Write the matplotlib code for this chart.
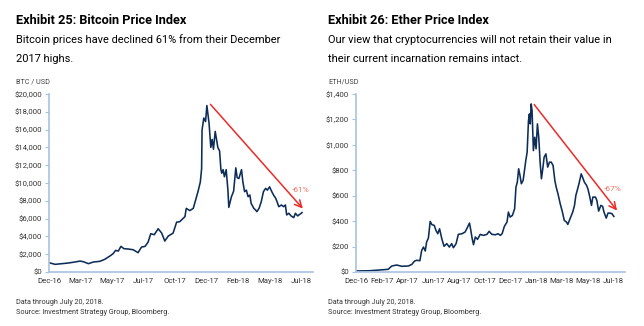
import matplotlib
matplotlib.use('Agg')
import matplotlib.pyplot as plt
import numpy as np
import pandas as pd

plt.rcParams['font.family'] = ['Roboto', 'DejaVu Sans']

start = pd.Timestamp('2016-12-20')

btc_day = [0, 14, 29, 44, 59, 71, 78, 90, 101, 116, 127, 139, 146, 152, 158, 164, 171, 181,
           192, 203, 211, 219, 226, 232, 240, 249, 257, 264, 272, 283, 291, 298, 310, 313,
           321, 329, 335, 340, 345, 348, 349, 353, 357, 360, 365, 369, 372, 375, 379, 382,
           385, 389, 392, 394, 397, 400, 404, 408, 410, 416, 421, 426, 429, 433, 439, 442,
           446, 450, 454, 458, 461, 467, 471, 474, 479, 484, 489, 494, 498, 503, 508, 512,
           517, 520, 524, 530, 535, 539, 542, 547, 552, 558, 562, 567, 573, 577]
btc_usd = [1047, 860, 935, 1010, 1120, 1230, 1160, 935, 1120, 1200, 1420, 1800, 2050, 2430,
           2350, 2880, 2620, 2580, 2500, 2170, 2800, 2880, 3360, 4300, 4190, 4860, 4370, 3480,
           4040, 4370, 5600, 5650, 6220, 7150, 6900, 7150, 8200, 9080, 10100, 11600, 15960,
           17300, 16900, 18700, 16700, 14000, 14900, 13800, 15800, 14900, 14000, 13600, 11500,
           11100, 11500, 10700, 11500, 9200, 7260, 8460, 9080, 11700, 10600, 10500, 11500,
           10150, 9030, 9200, 8460, 8650, 7700, 7150, 6970, 6780, 7150, 7900, 9030, 9400, 9200,
           9570, 9030, 8650, 8280, 7900, 7340, 7530, 7340, 7530, 6410, 6600, 6300, 6110, 6600,
           6300, 6520, 6670]

eth_day = [0, 31, 61, 72, 80, 91, 102, 117, 125, 131, 136, 143, 147, 151, 155, 158, 162, 166,
           170, 175, 179, 183, 187, 192, 197, 203, 209, 214, 218, 224, 229, 237, 244, 249, 254,
           257, 260, 263, 267, 272, 278, 285, 293, 298, 304, 312, 318, 323, 327, 332, 338, 341,
           345, 350, 355, 358, 361, 364, 367, 370, 374, 377, 380, 383, 386, 388, 390, 392, 394,
           397, 400, 403, 406, 409, 412, 415, 418, 421, 425, 429, 433, 437, 441, 445, 448, 452,
           457, 462, 466, 471, 474, 479, 485, 489, 492, 495, 499, 504, 507, 511, 516, 519, 523,
           527, 530, 536, 539, 543, 548, 552, 555, 560, 564, 569, 573, 577]
eth_usd = [8, 10, 18, 21, 47, 55, 45, 47, 60, 86, 92, 89, 170, 196, 165, 236, 267, 398, 372,
           367, 327, 301, 340, 262, 202, 223, 196, 223, 191, 223, 296, 301, 314, 348, 385, 327,
           262, 215, 275, 257, 296, 288, 296, 320, 296, 293, 301, 288, 301, 359, 393, 471, 432,
           445, 497, 668, 707, 812, 759, 694, 720, 798, 877, 942, 1191, 1243, 1165, 1322, 1270,
           955, 1060, 969, 1165, 1060, 864, 733, 812, 903, 929, 825, 864, 864, 838, 720, 668,
           615, 537, 471, 406, 393, 374, 419, 471, 524, 602, 641, 694, 772, 746, 707, 681, 654,
           594, 524, 589, 589, 563, 479, 524, 516, 471, 424, 463, 463, 458, 437]

btc_tick_labels = ['Dec-16', 'Mar-17', 'May-17', 'Jul-17', 'Oct-17', 'Dec-17', 'Feb-18',
                   'May-18', 'Jul-18']
eth_tick_labels = ['Dec-16', 'Feb-17', 'Apr-17', 'Jun-17', 'Aug-17', 'Oct-17', 'Dec-17',
                   'Jan-18', 'Mar-18', 'May-18', 'Jul-18']

# peak-to-now arrows: (day, value) at both ends, and the label
btc_arrow = [(364, 19070), (583, 6890)]
eth_arrow = [(395, 1334), (588, 466)]
btc_drop = '-61%'
eth_drop = '-67%'

NAVY = '#0d2d59'
AXIS = '#a9c1e2'
RED = '#ec2a26'
PINK = '#f27060'


def to_date(d):
    return start + pd.to_timedelta(np.asarray(d, dtype=float), unit='D')


def draw_panel(fig, rect, days, values, tick_labels, ymax, ystep, arrow, drop, label_at):
    ax = fig.add_axes(rect)
    ax.plot(to_date(days), values, color=NAVY, lw=1.15, solid_joinstyle='round')

    ax.set_ylim(0, ymax)
    ax.set_yticks(np.arange(0, ymax + 1, ystep))
    ax.set_yticklabels(['$' + format(int(v), ',') for v in np.arange(0, ymax + 1, ystep)])
    ax.set_xlim(to_date(0), to_date(602))
    ax.set_xticks(to_date(np.linspace(0, 576, len(tick_labels))))
    ax.set_xticklabels(tick_labels)

    for s in ['top', 'right']:
        ax.spines[s].set_visible(False)
    for s in ['left', 'bottom']:
        ax.spines[s].set_color(AXIS)
        ax.spines[s].set_linewidth(1.2)
    ax.tick_params(axis='y', length=3, width=0.8, color=AXIS, pad=2, labelsize=5.6,
                   labelcolor='#333333')
    ax.tick_params(axis='x', length=0, pad=4, labelsize=5.6, labelcolor='#333333')

    (d0, v0), (d1, v1) = arrow
    ax.annotate('', xy=(to_date(d1), v1), xytext=(to_date(d0), v0),
                arrowprops=dict(arrowstyle='->,head_length=0.5,head_width=0.25',
                                color=RED, lw=1.1))
    ax.text(to_date(label_at[0]), label_at[1], drop, color=PINK, fontsize=6,
            ha='center', va='center')
    return ax


fig = plt.figure(figsize=(6.44, 3.26), dpi=100)

draw_panel(fig, [49 / 644, 54 / 326, 264 / 644, 178 / 326], btc_day, btc_usd,
           btc_tick_labels, 20000, 2000, btc_arrow, btc_drop, (573, 9210))
draw_panel(fig, [356 / 644, 54 / 326, 269 / 644, 178 / 326], eth_day, eth_usd,
           eth_tick_labels, 1400, 200, eth_arrow, eth_drop, (575, 655))


def ftext(px, py, s, **kw):
    fig.text(px / 644, 1 - py / 326, s, va='center', ha='left', **kw)


ftext(16, 21, 'Exhibit 25: Bitcoin Price Index', fontsize=9.2, fontweight='bold')
ftext(16, 40, 'Bitcoin prices have declined 61% from their December', fontsize=7.9)
ftext(16, 59, '2017 highs.', fontsize=7.9)
ftext(16, 82, 'BTC / USD', fontsize=5.2, color='#444444')
ftext(16, 302, 'Data through July 20, 2018.', fontsize=5.2, color='#333333')
ftext(16, 313, 'Source: Investment Strategy Group, Bloomberg.', fontsize=5.2, color='#333333')

ftext(328, 21, 'Exhibit 26: Ether Price Index', fontsize=9.2, fontweight='bold')
ftext(328, 40, 'Our view that cryptocurrencies will not retain their value in', fontsize=7.9)
ftext(328, 59, 'their current incarnation remains intact.', fontsize=7.9)
ftext(328, 82, 'ETH/USD', fontsize=5.2, color='#444444')
ftext(328, 302, 'Data through July 20, 2018.', fontsize=5.2, color='#333333')
ftext(328, 313, 'Source: Investment Strategy Group, Bloomberg.', fontsize=5.2, color='#333333')

fig.savefig('out.png', dpi=100)
